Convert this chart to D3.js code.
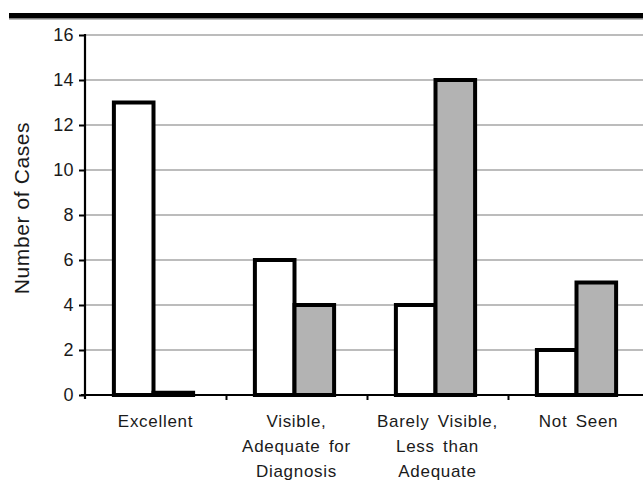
<!DOCTYPE html>
<html>
<head>
<meta charset="utf-8">
<script src="https://cdn.jsdelivr.net/npm/d3@7"></script>
<style>
  html, body { margin: 0; padding: 0; background: #fff; }
  svg { display: block; font-family: "Liberation Sans", Arial, Helvetica, sans-serif; }
</style>
</head>
<body>
<svg id="chart" width="643" height="480"></svg>
<script>
// ---- data ----
const categories = [
  ["Excellent"],
  ["Visible,", "Adequate for", "Diagnosis"],
  ["Barely Visible,", "Less than", "Adequate"],
  ["Not Seen"]
];
const seriesNames = ["Series A", "Series B"];
const seriesA = [13, 6, 4, 2];
const seriesB = [0.1, 4, 14, 5];
const yTicks = [0, 2, 4, 6, 8, 10, 12, 14, 16];
const yLabel = "Number of Cases";

// ---- layout ----
const svg = d3.select("#chart");
const W = 643, H = 480;
const axisX = 85, axisY = 395, topY = 35;
const catKeys = categories.map((c, i) => i);

const x0 = d3.scaleBand().domain(catKeys).range([axisX, axisX + 4 * 141]).paddingInner(0).paddingOuter(0);
const x1 = d3.scaleBand().domain(seriesNames).range([-2, x0.bandwidth() - 2]).paddingInner(0).paddingOuter(0.78);
const y = d3.scaleLinear().domain([0, 16]).range([axisY, topY]);

const fills = { "Series A": "#ffffff", "Series B": "#b3b3b3" };
const textColor = "#1a1a1a";
const ff = "Liberation Sans, Arial, sans-serif";

// top rule
svg.append("rect").attr("x", 9).attr("y", 13).attr("width", W - 9).attr("height", 5.5).attr("fill", "#000");
svg.append("line").attr("x1", 9).attr("x2", W).attr("y1", 19.5).attr("y2", 19.5).attr("stroke", "#bbb").attr("stroke-width", 1);

// gridlines
svg.append("g").selectAll("line").data(yTicks.filter(t => t > 0)).join("line")
  .attr("x1", axisX).attr("x2", W)
  .attr("y1", d => y(d)).attr("y2", d => y(d))
  .attr("stroke", "#a6a6a6").attr("stroke-width", 1.5);

// bars
const rows = catKeys.map(i => ({ i, vals: [{ s: "Series A", v: seriesA[i] }, { s: "Series B", v: seriesB[i] }] }));
const g = svg.append("g").selectAll("g").data(rows).join("g")
  .attr("transform", d => `translate(${x0(d.i)},0)`);
g.selectAll("rect").data(d => d.vals).join("rect")
  .attr("x", d => x1(d.s))
  .attr("width", x1.bandwidth())
  .attr("y", d => y(d.v))
  .attr("height", d => y(0) - y(d.v))
  .attr("fill", d => fills[d.s])
  .attr("stroke", "#000")
  .attr("stroke-width", 4);

// y axis
const yAxis = d3.axisLeft(y).tickValues(yTicks).tickSize(6).tickPadding(5);
const ya = svg.append("g").attr("transform", `translate(${axisX},0)`).call(yAxis);
ya.select(".domain").remove();
ya.selectAll(".tick line").attr("stroke", "#000").attr("stroke-width", 2);
ya.selectAll(".tick text").attr("fill", textColor).attr("font-size", 18)
  .attr("font-family", ff).style("letter-spacing", "0.4px");
svg.append("line").attr("x1", axisX).attr("x2", axisX).attr("y1", topY - 1).attr("y2", axisY + 4)
  .attr("stroke", "#000").attr("stroke-width", 2.2);

// x axis
svg.append("line").attr("x1", axisX - 4).attr("x2", W).attr("y1", axisY).attr("y2", axisY)
  .attr("stroke", "#000").attr("stroke-width", 2.2);
const xAxis = d3.axisBottom(d3.scaleLinear().domain([0, 4]).range([axisX, axisX + 4 * 141]))
  .tickValues([1, 2, 3]).tickSize(5).tickFormat("");
const xa = svg.append("g").attr("transform", `translate(0,${axisY})`).call(xAxis);
xa.select(".domain").remove();
xa.selectAll(".tick line").attr("stroke", "#000").attr("stroke-width", 2);

// category labels
const lab = svg.append("g").selectAll("text").data(rows).join("text")
  .attr("x", d => x0(d.i) + x0.bandwidth() / 2)
  .attr("y", 427)
  .attr("text-anchor", "middle")
  .attr("fill", textColor)
  .attr("font-size", 17)
  .attr("font-family", ff)
  .style("letter-spacing", "0.7px")
  .style("word-spacing", "3px");
lab.selectAll("tspan").data(d => categories[d.i].map((t, k) => ({ t, k, cx: x0(d.i) + x0.bandwidth() / 2 }))).join("tspan")
  .attr("x", d => d.cx)
  .attr("dy", d => d.k === 0 ? 0 : 25)
  .text(d => d.t);

// y label
svg.append("text")
  .attr("transform", `translate(29,208) rotate(-90)`)
  .attr("text-anchor", "middle")
  .attr("fill", textColor)
  .attr("font-size", 21)
  .attr("font-family", ff)
  .style("letter-spacing", "0.6px")
  .text(yLabel);
</script>
</body>
</html>
